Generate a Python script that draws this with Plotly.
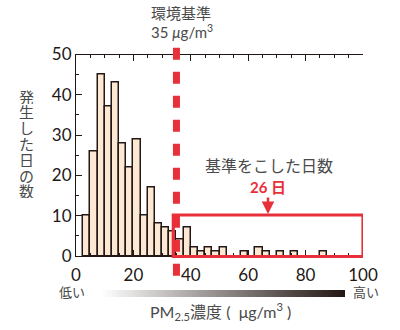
import plotly.graph_objects as go

# ---- data ----
bin_start = [2.5, 5, 7.5, 10, 12.5, 15, 17.5, 20, 22.5, 25, 27.5, 30, 32.5, 35, 37.5,
             40, 42.5, 45, 47.5, 50, 52.5, 55, 57.5, 60, 62.5, 65, 67.5, 70, 72.5, 75,
             77.5, 80, 82.5, 85]
counts = [10, 26, 45, 37, 43, 28, 22, 29, 10, 17, 8, 7, 6, 4, 7,
          2, 1, 2, 1, 2, 0, 0, 1, 0, 2, 1, 0, 1, 0, 1,
          0, 0, 0, 1]
bin_width = 2.5
standard_value = 35
exceed_days = 26
x_ticks = [0, 20, 40, 60, 80, 100]
y_ticks = [0, 10, 20, 30, 40, 50]
gradient_steps = list(range(101))

W, H = 400, 330
JP = "Lato, 'Noto Sans CJK JP', sans-serif"
INK = "#231815"
RED = "#e8303a"
GREY = "#4a4a4a"

def px(xp):
    return xp / W

def py(yp):
    return 1 - yp / H

xdom = [px(76), px(363)]
ydom = [py(256), py(54.5)]

fig = go.Figure()
fig.add_trace(go.Bar(
    x=bin_start, y=counts, width=bin_width, offset=0,
    marker=dict(color="#fde8d3", line=dict(color=INK, width=1.5)),
    xaxis="x", yaxis="y", showlegend=False, hoverinfo="skip"))

# gradient strip
fig.add_trace(go.Heatmap(
    z=[gradient_steps], x=gradient_steps, y=[0],
    colorscale=[[0, "#ffffff"], [0.5, "#8f8987"], [1, INK]],
    showscale=False, xaxis="x5", yaxis="y5", hoverinfo="skip"))

axis_common = dict(showgrid=False, zeroline=False, showline=True, linecolor=INK,
                   linewidth=1.2, tickcolor=INK, tickwidth=1, automargin=False)

fig.update_layout(
    width=W, height=H,
    margin=dict(l=0, r=0, t=0, b=0, autoexpand=False),
    paper_bgcolor="white", plot_bgcolor="white",
    font=dict(family=JP, color=INK),
    bargap=0,
    xaxis=dict(domain=xdom, range=[0, 100], tickvals=x_ticks, ticks="inside", ticklen=6,
               minor=dict(dtick=5, ticks="inside", ticklen=3, tickcolor=INK),
               mirror="ticks", tickfont=dict(size=17, color=INK), ticklabelstandoff=3,
               anchor="y", **axis_common),
    yaxis=dict(domain=ydom, range=[0, 50], tickvals=y_ticks, ticks="inside", ticklen=6,
               minor=dict(dtick=5, ticks="inside", ticklen=3, tickcolor=INK),
               tickfont=dict(size=17, color=INK), anchor="x", **axis_common),
    # right axis with fine ticks
    yaxis2=dict(overlaying="y", side="right", range=[0, 50], tickvals=y_ticks,
                ticks="inside", ticklen=5, showticklabels=False,
                minor=dict(dtick=1, ticks="inside", ticklen=3, tickcolor=INK),
                anchor="x", **axis_common),
    # top: outward half of crossing ticks
    xaxis3=dict(overlaying="x", side="top", range=[0, 100], tickvals=x_ticks,
                ticks="outside", ticklen=4, showticklabels=False,
                minor=dict(dtick=5, ticks="outside", ticklen=3, tickcolor=INK),
                anchor="y", **axis_common),
    # bottom: outward half of major ticks
    xaxis4=dict(overlaying="x", side="bottom", range=[0, 100], tickvals=x_ticks,
                ticks="outside", ticklen=4, showticklabels=False,
                anchor="y", **axis_common),
    xaxis5=dict(domain=[px(100), px(345)], anchor="y5", visible=False,
                range=[-0.5, 100.5], automargin=False),
    yaxis5=dict(domain=[py(297), py(290)], anchor="x5", visible=False, automargin=False),
)

# dashed standard line
fig.add_shape(type="line", xref="x", yref="paper", x0=standard_value, x1=standard_value,
              y0=py(47.7), y1=py(279), line=dict(color=RED, width=7, dash="12px,12px"),
              layer="above")
# box of exceeding days
fig.add_shape(type="rect", xref="x", yref="paper", x0=33.9, x1=100,
              y0=py(256.5), y1=py(215), line=dict(color=RED, width=3.2),
              fillcolor="rgba(0,0,0,0)", layer="above")

ann = []
ann.append(dict(text="環境基準", x=px(181), y=py(13), font=dict(size=15, color=GREY)))
ann.append(dict(text="35 <i>μ</i>g/m<sup>3</sup>", x=px(182), y=py(32), font=dict(size=15, color=GREY)))
for i, ch in enumerate("発生した日の数"):
    ann.append(dict(text=ch, x=px(26), y=py(96 + i * 15.8), height=15, valign="middle",
                    font=dict(size=15, color=GREY)))
ann.append(dict(text="基準をこした日数", x=px(268.5), y=py(165.5), font=dict(size=16, color=GREY)))
ann.append(dict(text=f"<b>{exceed_days} 日</b>", x=px(268), y=py(214), showarrow=True,
                ax=0, ay=-27, arrowhead=2, arrowsize=1, arrowwidth=2.5, arrowcolor=RED,
                standoff=0, font=dict(size=15, color=RED)))
ann.append(dict(text="低い", x=px(72), y=py(292), font=dict(size=13, color=GREY)))
ann.append(dict(text="高い", x=px(366), y=py(292), font=dict(size=13, color=GREY)))
ann.append(dict(text="PM<sub>2.5</sub>濃度 (  μg/m<sup>3</sup> )", x=px(220), y=py(311),
                font=dict(size=16, color=GREY)))
for a in ann:
    a.setdefault("showarrow", False)
    a.update(xref="paper", yref="paper", xanchor="center", yanchor="middle")
fig.update_layout(annotations=ann)

fig.write_html("out.html")
